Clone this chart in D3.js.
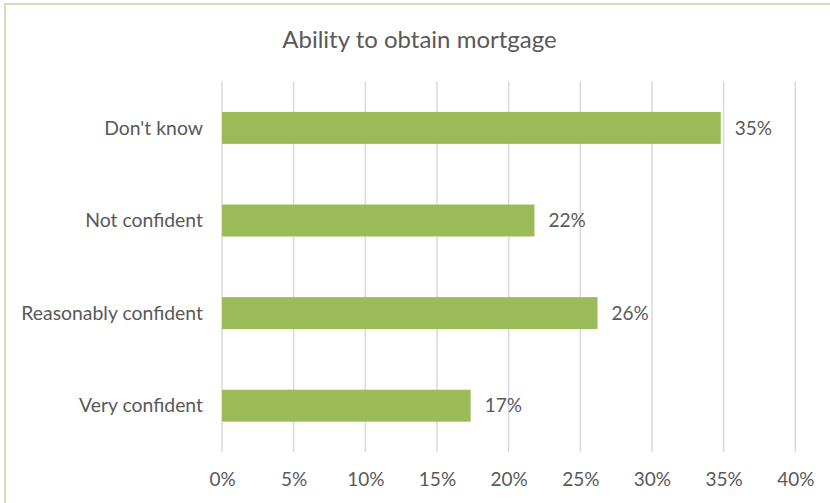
<!DOCTYPE html>
<html>
<head>
<meta charset="utf-8">
<script src="https://cdn.jsdelivr.net/npm/d3@7"></script>
<style>
  html, body { margin: 0; padding: 0; background: #fff; }
  svg { display: block; }
  text { font-family: Lato, "Open Sans", sans-serif; fill: #595959; }
</style>
</head>
<body>
<svg id="chart" width="830" height="503"></svg>
<script>
// Survey answers, top to bottom
const categories = ["Don't know", "Not confident", "Reasonably confident", "Very confident"];
const shares = [0.348, 0.218, 0.262, 0.1735];
const tickValues = [0, 0.05, 0.10, 0.15, 0.20, 0.25, 0.30, 0.35, 0.40];
const chartTitle = "Ability to obtain mortgage";

const svg = d3.select("#chart");
const W = 830, H = 503;
const plot = { left: 222, right: 795.3, top: 81.6, bottom: 452 };

svg.append("rect").attr("width", W).attr("height", H).attr("fill", "#fff");

// chart frame
svg.append("rect")
  .attr("x", 5).attr("y", 4)
  .attr("width", W + 20).attr("height", H + 20)
  .attr("fill", "none")
  .attr("stroke", "#dcd8c2")
  .attr("stroke-width", 2);

const x = d3.scaleLinear().domain([0, 0.4]).range([plot.left, plot.right]);
const y = d3.scaleBand().domain(categories)
  .range([plot.top, plot.bottom])
  .paddingInner(0.655).paddingOuter(0.3275);

// vertical gridlines
svg.append("g").selectAll("line").data(tickValues).join("line")
  .attr("x1", d => x(d)).attr("x2", d => x(d))
  .attr("y1", plot.top).attr("y2", plot.bottom)
  .attr("stroke", "#d9d9d9").attr("stroke-width", 1.5);

// x axis labels
const xAxis = d3.axisBottom(x).tickValues(tickValues).tickFormat(d3.format(".0%")).tickSize(0).tickPadding(0);
const gx = svg.append("g").attr("transform", `translate(0,${plot.bottom})`).call(xAxis);
gx.select(".domain").remove();
gx.selectAll("text")
  .attr("dy", null).attr("y", 34)
  .style("font-size", "19px").style("fill", "#595959");

// category labels
const yAxis = d3.axisLeft(y).tickSize(0).tickPadding(0);
const gy = svg.append("g").attr("transform", `translate(${203},0)`).call(yAxis);
gy.select(".domain").remove();
gy.selectAll("text")
  .attr("dy", "0.35em")
  .style("font-size", "19.4px").style("fill", "#595959");

const data = categories.map((c, i) => ({ c, v: shares[i] }));

// bars
svg.append("g").selectAll("rect").data(data).join("rect")
  .attr("x", x(0))
  .attr("y", d => y(d.c))
  .attr("width", d => x(d.v) - x(0))
  .attr("height", y.bandwidth())
  .attr("fill", "#9bbb59");

// value labels
svg.append("g").selectAll("text").data(data).join("text")
  .attr("x", d => x(d.v) + 14)
  .attr("y", d => y(d.c) + y.bandwidth() / 2)
  .attr("dy", "0.35em")
  .style("font-size", "19px")
  .text(d => d3.format(".0%")(d.v));

// title
svg.append("text")
  .attr("x", 419.5).attr("y", 48)
  .attr("text-anchor", "middle")
  .style("font-size", "24px")
  .text(chartTitle);
</script>
</body>
</html>
